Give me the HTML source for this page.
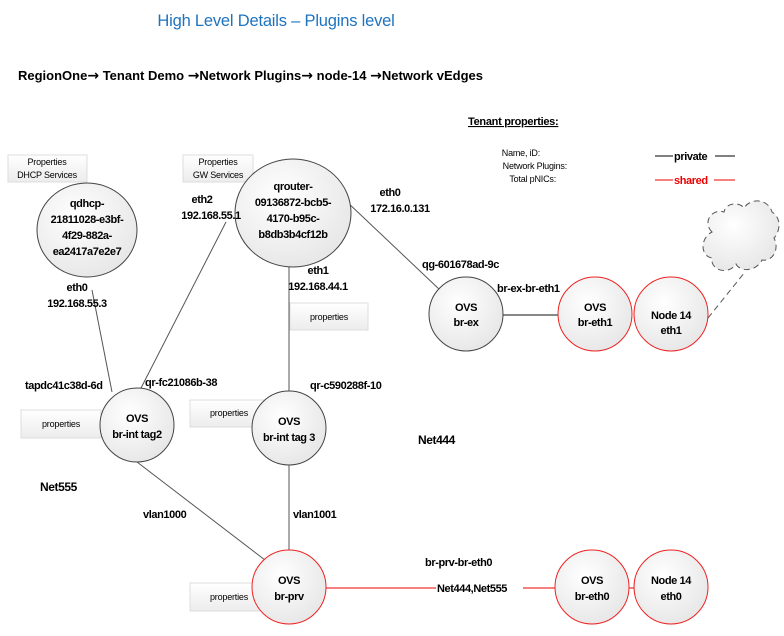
<!DOCTYPE html>
<html><head><meta charset="utf-8"><style>
html,body{margin:0;padding:0;background:#fff}
svg{display:block}
text{font-family:"Liberation Sans",sans-serif}
.b{font-weight:bold;font-size:11px;letter-spacing:-0.4px}
.s{font-size:9px;letter-spacing:-0.2px}
.ar{font-family:"DejaVu Sans",sans-serif;font-size:14px}
</style></head><body>
<svg width="784" height="636" viewBox="0 0 784 636" xmlns="http://www.w3.org/2000/svg">
<defs>
<radialGradient id="g" cx="0.4" cy="0.35" r="0.7"><stop offset="0" stop-color="#ffffff"/><stop offset="1" stop-color="#e6e6e6"/></radialGradient>
<linearGradient id="pb" x1="0" y1="0" x2="0" y2="1"><stop offset="0" stop-color="#ffffff"/><stop offset="1" stop-color="#ececec"/></linearGradient>
</defs>
<text x="276" y="26" text-anchor="middle" fill="#1e73be" font-size="16.5" letter-spacing="-0.2">High Level Details – Plugins level</text>
<text x="18" y="80" font-weight="bold" font-size="13" letter-spacing="0">RegionOne<tspan class="ar">→</tspan> Tenant Demo <tspan class="ar">→</tspan>Network Plugins<tspan class="ar">→</tspan> node-14 <tspan class="ar">→</tspan>Network vEdges</text>

<text x="468" y="125" font-weight="bold" font-size="11" text-decoration="underline" letter-spacing="-0.3">Tenant  properties:</text>
<text x="540" y="156" class="s" text-anchor="end">Name, iD:</text>
<text x="567" y="169" class="s" text-anchor="end">Network Plugins:</text>
<text x="556" y="182" class="s" text-anchor="end">Total pNICs:</text>
<line x1="655" y1="156" x2="673" y2="156" stroke="#000"/>
<text x="674" y="160" class="b" font-size="12">private</text>
<line x1="715" y1="156" x2="735" y2="156" stroke="#000"/>
<line x1="655" y1="180" x2="673" y2="180" stroke="#e00"/>
<text x="674" y="184" class="b" fill="#e00" font-size="12">shared</text>
<line x1="714" y1="180" x2="735" y2="180" stroke="#e00"/>

<g stroke="#555" stroke-width="1" fill="none">
<line x1="92" y1="290" x2="112" y2="392"/>
<line x1="226" y1="222" x2="140" y2="390"/>
<line x1="289" y1="267" x2="289" y2="392"/>
<line x1="345" y1="200" x2="440" y2="290"/>
<line x1="503" y1="315" x2="558" y2="315" stroke="#888" stroke-width="2"/>
<line x1="137" y1="462" x2="265" y2="560"/>
<line x1="289" y1="465" x2="289" y2="551"/>
<line x1="708" y1="318" x2="745" y2="272" stroke-dasharray="6,4"/>
</g>
<line x1="326" y1="588" x2="555" y2="588" stroke="#e00"/>
<line x1="628" y1="588" x2="635" y2="588" stroke="#e00"/>

<path d="M712,232 C702,222 712,208 724,212 C726,202 740,202 744,208 C750,198 768,198 772,212 C782,218 780,232 774,238 C780,250 772,262 762,260 C756,272 740,272 736,264 C728,276 710,270 712,258 C700,256 700,238 712,232 Z" fill="url(#g)" stroke="#555" stroke-dasharray="6,4"/>

<g fill="url(#pb)" stroke="#ddd">
<rect x="8" y="155" width="79" height="27"/>
<rect x="183" y="155" width="70" height="27"/>
<rect x="290" y="303" width="78" height="27"/>
<rect x="21" y="410" width="80" height="28"/>
<rect x="190" y="400" width="78" height="27"/>
<rect x="190" y="583" width="78" height="28"/>
</g>

<g fill="url(#g)" stroke="#444" stroke-width="1">
<ellipse cx="87" cy="230" rx="50" ry="47"/>
<ellipse cx="293" cy="213" rx="58" ry="54"/>
<circle cx="466" cy="314" r="37"/>
<circle cx="137" cy="425" r="37"/>
<circle cx="289" cy="428" r="37"/>
</g>
<g fill="url(#g)" stroke="#e22" stroke-width="1">
<circle cx="595" cy="314" r="37"/>
<circle cx="671" cy="314" r="37"/>
<circle cx="289" cy="587" r="37"/>
<circle cx="592" cy="587" r="37"/>
<circle cx="671" cy="587" r="37"/>
</g>

<g class="s" text-anchor="middle">
<text x="47" y="165">Properties</text><text x="47" y="178">DHCP Services</text>
<text x="218" y="165">Properties</text><text x="218" y="178">GW Services</text>
<text x="329" y="320">properties</text>
<text x="61" y="427">properties</text>
<text x="229" y="416">properties</text>
<text x="229" y="600">properties</text>
</g>

<g class="b" text-anchor="middle">
<text x="87" y="207">qdhcp-</text>
<text x="87" y="223">21811028-e3bf-</text>
<text x="87" y="239">4f29-882a-</text>
<text x="87" y="255">ea2417a7e2e7</text>
<text x="293" y="190">qrouter-</text>
<text x="293" y="206">09136872-bcb5-</text>
<text x="293" y="222">4170-b95c-</text>
<text x="293" y="238">b8db3b4cf12b</text>
<text x="466" y="311">OVS</text><text x="466" y="326">br-ex</text>
<text x="595" y="311">OVS</text><text x="595" y="326">br-eth1</text>
<text x="671" y="319">Node 14</text><text x="671" y="334">eth1</text>
<text x="137" y="422">OVS</text><text x="137" y="438">br-int tag2</text>
<text x="289" y="425">OVS</text><text x="289" y="441">br-int tag 3</text>
<text x="289" y="584">OVS</text><text x="289" y="600">br-prv</text>
<text x="592" y="584">OVS</text><text x="592" y="600">br-eth0</text>
<text x="671" y="584">Node 14</text><text x="671" y="600">eth0</text>
<text x="202" y="203">eth2</text><text x="211" y="219">192.168.55.1</text>
<text x="390" y="196">eth0</text><text x="400" y="212">172.16.0.131</text>
<text x="318" y="274">eth1</text><text x="318" y="290">192.168.44.1</text>
<text x="77" y="291">eth0</text><text x="77" y="307">192.168.55.3</text>
</g>
<g class="b">
<text x="422" y="268">qg-601678ad-9c</text>
<text x="497" y="292">br-ex-br-eth1</text>
<text x="25" y="389">tapdc41c38d-6d</text>
<text x="145" y="386">qr-fc21086b-38</text>
<text x="310" y="389">qr-c590288f-10</text>
<text x="418" y="444" font-size="12">Net444</text>
<text x="40" y="491" font-size="12">Net555</text>
<text x="143" y="518">vlan1000</text>
<text x="293" y="518">vlan1001</text>
<text x="425" y="566">br-prv-br-eth0</text>
</g>
<rect x="436" y="581" width="87" height="14" fill="#fff"/>
<text x="437" y="592" class="b">Net444,Net555</text>
</svg>
</body></html>
